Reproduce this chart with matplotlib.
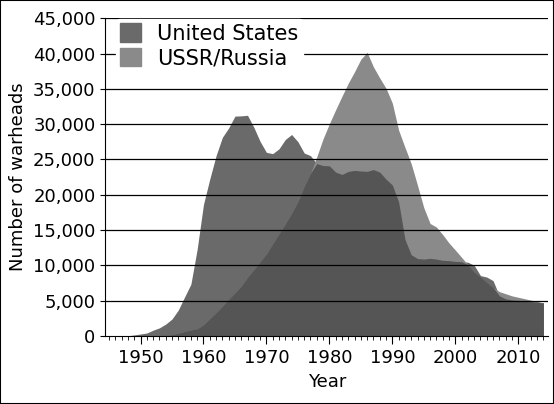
import matplotlib.pyplot as plt
import numpy as np
from matplotlib.patches import Patch, Rectangle

years = list(range(1945, 2015))
us = [2, 9, 13, 50, 170, 299, 438, 841, 1169, 1703, 2422, 3692, 5543, 7345, 12298,
      18638, 22229, 25540, 28133, 29463, 31139, 31175, 31255, 29561, 27552, 26008,
      25830, 26516, 27835, 28537, 27519, 25914, 25542, 24418, 24138, 24104, 23208,
      22886, 23305, 23459, 23368, 23317, 23575, 23205, 22217, 21392, 19008, 13708,
      11511, 10979, 10904, 11011, 10903, 10732, 10685, 10577, 10526, 10457, 10027,
      8570, 8360, 7853, 5709, 5273, 5113, 5066, 4897, 4881, 4804, 4717]
ussr = [0, 0, 0, 0, 1, 5, 25, 50, 120, 150, 200, 426, 660, 869, 1060, 1605, 2471,
        3322, 4238, 5221, 6129, 7089, 8339, 9399, 10538, 11643, 13092, 14478, 15915,
        17385, 19055, 21205, 23044, 25393, 27935, 30062, 32049, 33952, 35804, 37431,
        39197, 40159, 38107, 36538, 35078, 32980, 29154, 26734, 24403, 21339, 18179,
        15942, 15442, 14368, 13188, 12188, 11152, 10114, 9076, 8400, 7600, 6900, 6300,
        6000, 5700, 5500, 5300, 5100, 4900, 4700]

fig = plt.figure(figsize=(5.54, 4.04), dpi=100)
ax = fig.add_axes([0.19, 0.168, 0.80, 0.787])

x = np.array(years)
a = np.array(us)
b = np.array(ussr)
ax.fill_between(x, 0, a, color='#6a6a6a', lw=0, zorder=1)
ax.fill_between(x, 0, b, color='#8a8a8a', lw=0, zorder=1)
ax.fill_between(x, 0, np.minimum(a, b), color='#555555', lw=0, zorder=1)

for y in range(5000, 45001, 5000):
    ax.axhline(y, color='black', lw=0.9, zorder=2)

ax.set_xlim(1944.4, 2014.8)
ax.set_ylim(0, 45000)
ax.set_xticks(range(1950, 2011, 10))
ax.set_xticks(range(1945, 2015), minor=True)
ax.set_yticks(range(0, 45001, 5000))
ax.set_yticklabels([f'{v:,}' for v in range(0, 45001, 5000)])
ax.tick_params(axis='both', labelsize=13, direction='out')
ax.tick_params(axis='x', which='major', length=6)
ax.tick_params(axis='x', which='minor', length=3)
for s in ['top', 'right']:
    ax.spines[s].set_visible(False)
ax.set_xlabel('Year', fontsize=13)
ax.set_ylabel('Number of warheads', fontsize=13)

leg = ax.legend(handles=[Patch(color='#6a6a6a', label='United States'),
                         Patch(color='#8a8a8a', label='USSR/Russia')],
                loc='upper left', bbox_to_anchor=(0.0, 1.03), fontsize=15,
                frameon=True, facecolor='white', edgecolor='white', framealpha=1,
                handlelength=1.0, handleheight=1.0, borderpad=0.2, labelspacing=0.2)
leg.set_zorder(3)

fig.patches.append(Rectangle((0, 0), 1, 1, transform=fig.transFigure,
                             fill=False, edgecolor='black', lw=1.5))
fig.savefig('out.png', dpi=100)
